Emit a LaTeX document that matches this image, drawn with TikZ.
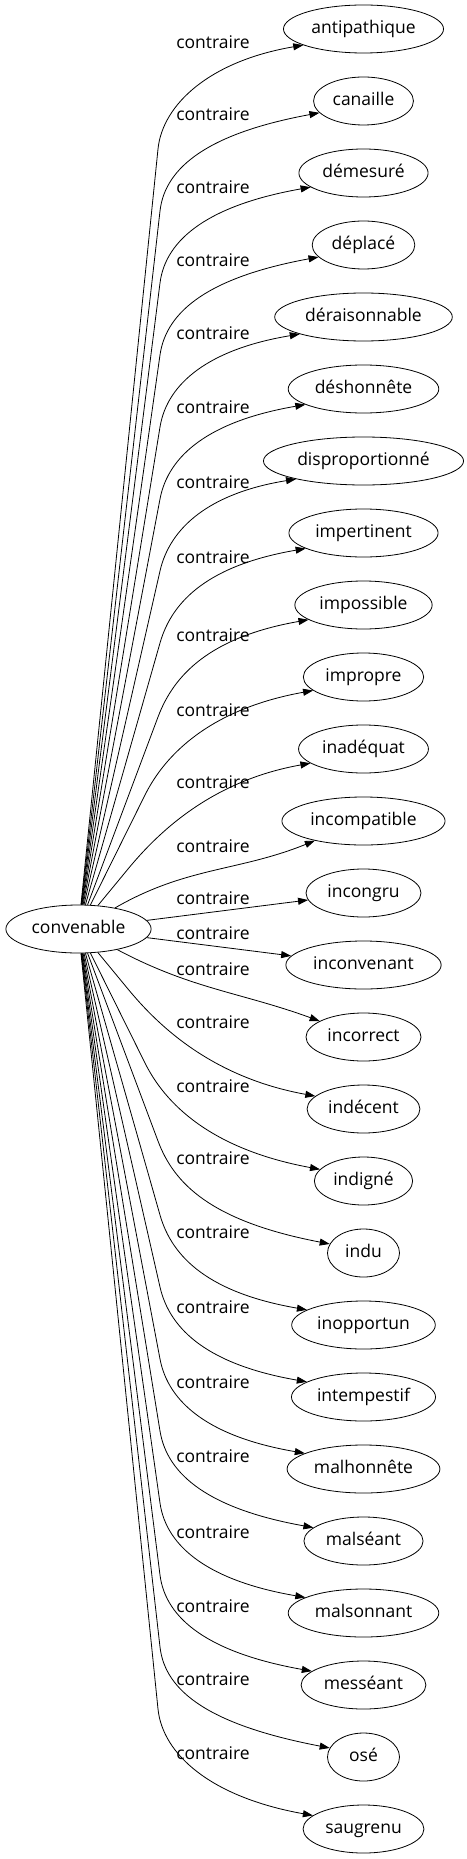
\documentclass[tikz,border=0pt]{standalone}
\usepackage{fontspec}
\setmainfont{Open Sans}
\usetikzlibrary{arrows.meta,shapes.geometric}
\begin{document}
\begin{tikzpicture}[x=1pt,y=1pt,
  every node/.style={font=\fontsize{17.5}{20}\selectfont, text=black},
  word/.style={draw=black, ellipse, line width=0.8pt, inner xsep=4.5pt, inner ysep=0pt,
    minimum width=72pt, minimum height=48pt, text height=13pt, text depth=4pt},
  lbl/.style={inner sep=0pt},
  edge/.style={-{Triangle[length=10pt,width=7pt]}, line width=0.8pt}]
\useasboundingbox (0,0) rectangle (466,-1859);
\node[word] (conv) at (78.5,-929) {convenable};
\foreach \w [count=\j from 0] in {antipathique,canaille,démesuré,déplacé,déraisonnable,déshonnête,disproportionné,impertinent,impossible,impropre,inadéquat,incompatible,incongru,inconvenant,incorrect,indécent,indigné,indu,inopportun,intempestif,malhonnête,malséant,malsonnant,messéant,osé,saugrenu}{
  \node[word] (t\j) at (363.5,{-(29+72*\j)}) {\w};
}
\foreach \j/\y in {0/41.7,1/114.3,2/186.7,3/260,4/333.3,5/407.3,6/481.7,7/556.7,8/635,9/710,10/781.7,11/846,12/897.7,13/933.3,14/969.3,15/1021.7,16/1086,17/1157.7,18/1231.7,19/1306.7,20/1382.6,21/1456.2,22/1532.1,23/1606,24/1679.3,25/1753.3}{
  \node[lbl] (l\j) at (213,-\y) {contraire};
}
% upper edges: straight rise to Q, then bend into the target
\foreach \j/\qx/\qo in {0/158/120,1/160/110,2/160/110,3/160/110,4/160/110,5/160/110,6/160/110,7/160/110,8/158/112,9/145/118,10/128/120}{
  \pgfmathsetmacro\T{29+72*\j}
  \pgfmathsetmacro\qy{-(\T+\qo)}
  \pgfmathsetmacro\ang{atan2(\qy+929,\qx-78.5)}
  \draw[edge] (conv) -- (\qx,\qy) .. controls +(\ang:45) and (210,{-\T-32}) .. (t\j.195);
}
% lower edges: mirror image
\foreach \j/\qx/\qo in {25/158/120,24/160/110,23/160/110,22/160/110,21/160/110,20/160/110,19/160/110,18/160/110,17/158/112,16/145/118,15/128/120}{
  \pgfmathsetmacro\T{29+72*\j}
  \pgfmathsetmacro\qy{-(\T-\qo)}
  \pgfmathsetmacro\ang{atan2(\qy+929,\qx-78.5)}
  \draw[edge] (conv) -- (\qx,\qy) .. controls +(\ang:45) and (210,{-\T+32}) .. (t\j.165);
}
\draw[edge] (conv) to[out=30,in=202] (t11);
\draw[edge] (conv) -- (t12);
\draw[edge] (conv) -- (t13);
\draw[edge] (conv) to[out=-28,in=160] (t14);
\end{tikzpicture}
\end{document}
